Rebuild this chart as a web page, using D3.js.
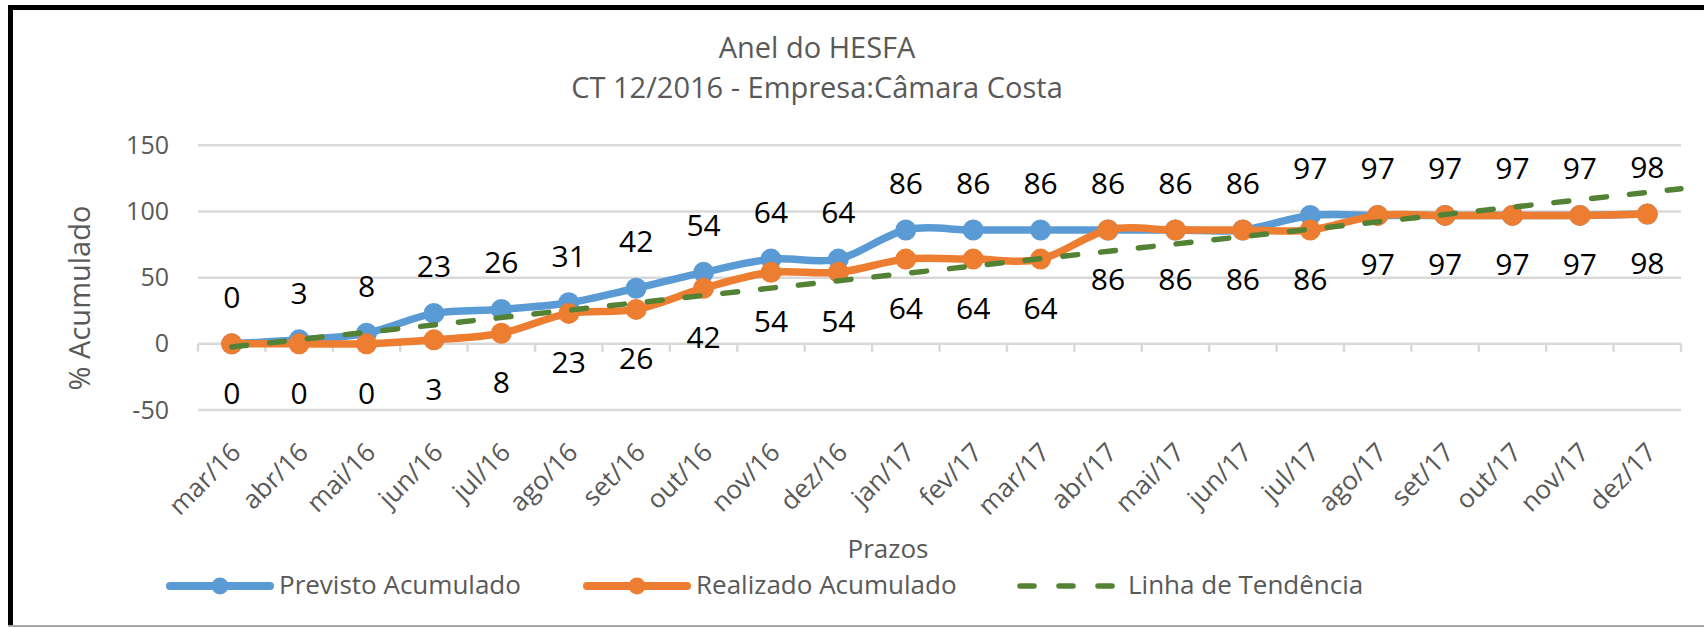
<!DOCTYPE html>
<html>
<head>
<meta charset="utf-8">
<script src="https://cdn.jsdelivr.net/npm/d3@7"></script>
<style>
  html, body { margin: 0; padding: 0; background: #fff; }
  svg text { font-family: "Open Sans", "Noto Sans", sans-serif; }
</style>
</head>
<body>
<div id="chart"></div>
<script>
const months = ["mar/16", "abr/16", "mai/16", "jun/16", "jul/16", "ago/16", "set/16", "out/16",
  "nov/16", "dez/16", "jan/17", "fev/17", "mar/17", "abr/17", "mai/17", "jun/17",
  "jul/17", "ago/17", "set/17", "out/17", "nov/17", "dez/17"];
const previsto = [0, 3, 8, 23, 26, 31, 42, 54, 64, 64, 86, 86, 86, 86, 86, 86, 97, 97, 97, 97, 97, 98];
const realizado = [0, 0, 0, 3, 8, 23, 26, 42, 54, 54, 64, 64, 64, 86, 86, 86, 86, 97, 97, 97, 97, 98];
const yTicks = [-50, 0, 50, 100, 150];
const titleLines = ["Anel do HESFA", "CT 12/2016 - Empresa:Câmara Costa"];
const seriesNames = ["Previsto Acumulado", "Realizado Acumulado", "Linha de Tendência"];

const width = 1704, height = 627;
const blue = "#5B9BD5", orange = "#ED7D31", green = "#548235", grey = "#595959", grid = "#D9D9D9";

const svg = d3.select("#chart").append("svg")
  .attr("width", width)
  .attr("height", height);

svg.append("rect").attr("width", width).attr("height", height).attr("fill", "#fff");

// chart frame: black left/top, thin grey bottom
svg.append("rect").attr("x", 8).attr("y", 5).attr("width", width - 8).attr("height", 5).attr("fill", "#000");
svg.append("rect").attr("x", 8).attr("y", 5).attr("width", 5).attr("height", height - 5).attr("fill", "#000");
svg.append("rect").attr("x", 8).attr("y", 625).attr("width", width - 8).attr("height", 2).attr("fill", "#A6A6A6");

const plot = { left: 198, right: 1681, top: 145.3, bottom: 410 };

const x = d3.scalePoint()
  .domain(months)
  .range([plot.left, plot.right])
  .padding(0.5);

const xb = d3.scaleBand()
  .domain(months)
  .range([plot.left, plot.right]);

const y = d3.scaleLinear()
  .domain([-50, 150])
  .range([plot.bottom, plot.top]);

// Title
svg.append("g")
  .selectAll("text")
  .data(titleLines)
  .enter().append("text")
  .attr("x", 817)
  .attr("y", (d, i) => 58 + i * 40)
  .attr("text-anchor", "middle")
  .attr("fill", grey)
  .style("font-size", "29px")
  .text(d => d);

// gridlines
svg.append("g")
  .selectAll("line")
  .data(yTicks)
  .enter().append("line")
  .attr("x1", plot.left)
  .attr("x2", plot.right)
  .attr("y1", d => y(d))
  .attr("y2", d => y(d))
  .attr("stroke", grid)
  .attr("stroke-width", 2.5);

// category tick marks on the zero line
const bounds = months.map(m => xb(m)).concat([xb.range()[1]]);
svg.append("g")
  .selectAll("line")
  .data(bounds)
  .enter().append("line")
  .attr("x1", d => d)
  .attr("x2", d => d)
  .attr("y1", y(0))
  .attr("y2", y(0) + 8)
  .attr("stroke", grid)
  .attr("stroke-width", 2.5);

// y axis labels
const yAxis = svg.append("g")
  .attr("transform", `translate(${plot.left},0)`)
  .call(d3.axisLeft(y).tickValues(yTicks).tickSize(0).tickPadding(29)
    .tickFormat(d => String(d)));
yAxis.select(".domain").remove();
yAxis.selectAll("text")
  .attr("fill", grey)
  .style("font-size", "25px");

// x axis labels (rotated)
const xAxis = svg.append("g")
  .attr("transform", `translate(0,${plot.bottom})`)
  .call(d3.axisBottom(x).tickSize(0));
xAxis.select(".domain").remove();
xAxis.selectAll("text")
  .attr("x", 0)
  .attr("y", 0)
  .attr("dy", "0.71em")
  .attr("transform", "translate(-3,31) rotate(-45)")
  .style("text-anchor", "end")
  .attr("fill", grey)
  .style("font-size", "26px");

// axis titles
svg.append("text")
  .attr("transform", "translate(90,298) rotate(-90)")
  .attr("text-anchor", "middle")
  .attr("fill", grey)
  .style("font-size", "29px")
  .text("% Acumulado");

svg.append("text")
  .attr("x", 888)
  .attr("y", 558)
  .attr("text-anchor", "middle")
  .attr("fill", grey)
  .style("font-size", "26px")
  .text("Prazos");

// smoothed lines
const line = d3.line()
  .x((d, i) => x(months[i]))
  .y(d => y(d))
  .curve(d3.curveCardinal.tension(0));

function drawSeries(values, color) {
  svg.append("path")
    .datum(values)
    .attr("fill", "none")
    .attr("stroke", color)
    .attr("stroke-width", 7.5)
    .attr("stroke-linejoin", "round")
    .attr("d", line);
  svg.append("g")
    .selectAll("circle")
    .data(values)
    .enter().append("circle")
    .attr("cx", (d, i) => x(months[i]))
    .attr("cy", d => y(d))
    .attr("r", 10.5)
    .attr("fill", color);
}
drawSeries(previsto, blue);
drawSeries(realizado, orange);

// linear trend of realizado, extended half a category forward
const idx = realizado.map((d, i) => i);
const mx = d3.mean(idx), my = d3.mean(realizado);
const slope = d3.sum(idx, i => (i - mx) * (realizado[i] - my)) / d3.sum(idx, i => (i - mx) * (i - mx));
const intercept = my - slope * mx;
const step = x.step();
const trendEnds = [0, realizado.length - 0.5];
svg.append("path")
  .datum(trendEnds)
  .attr("fill", "none")
  .attr("stroke", green)
  .attr("stroke-width", 5.5)
  .attr("stroke-dasharray", "15 23")
  .attr("stroke-linecap", "round")
  .attr("d", d3.line()
    .x(t => x(months[0]) + t * step)
    .y(t => y(intercept + slope * t)));

// data labels
svg.append("g")
  .selectAll("text")
  .data(previsto)
  .enter().append("text")
  .attr("x", (d, i) => x(months[i]))
  .attr("y", d => y(d) - 36)
  .attr("text-anchor", "middle")
  .attr("fill", "#000")
  .style("font-size", "30px")
  .text(d => d);

svg.append("g")
  .selectAll("text")
  .data(realizado)
  .enter().append("text")
  .attr("x", (d, i) => x(months[i]))
  .attr("y", d => y(d) + 60)
  .attr("text-anchor", "middle")
  .attr("fill", "#000")
  .style("font-size", "30px")
  .text(d => d);

// legend
const legendX = [170, 587, 1020];
const legend = svg.append("g").attr("transform", "translate(0,586)");
const items = legend.selectAll("g")
  .data(seriesNames)
  .enter().append("g")
  .attr("transform", (d, i) => `translate(${legendX[i]},0)`);

items.append("line")
  .attr("x1", 0)
  .attr("x2", 100)
  .attr("stroke", (d, i) => [blue, orange, green][i])
  .attr("stroke-width", (d, i) => i < 2 ? 8 : 5.5)
  .attr("stroke-linecap", "round")
  .attr("stroke-dasharray", (d, i) => i < 2 ? null : "14 25");

items.filter((d, i) => i < 2).append("circle")
  .attr("cx", 50)
  .attr("r", 8.5)
  .attr("fill", (d, i) => [blue, orange][i]);

items.append("text")
  .attr("x", (d, i) => i < 2 ? 109 : 108)
  .attr("y", 8)
  .attr("fill", grey)
  .style("font-size", "26px")
  .text(d => d);
</script>
</body>
</html>
